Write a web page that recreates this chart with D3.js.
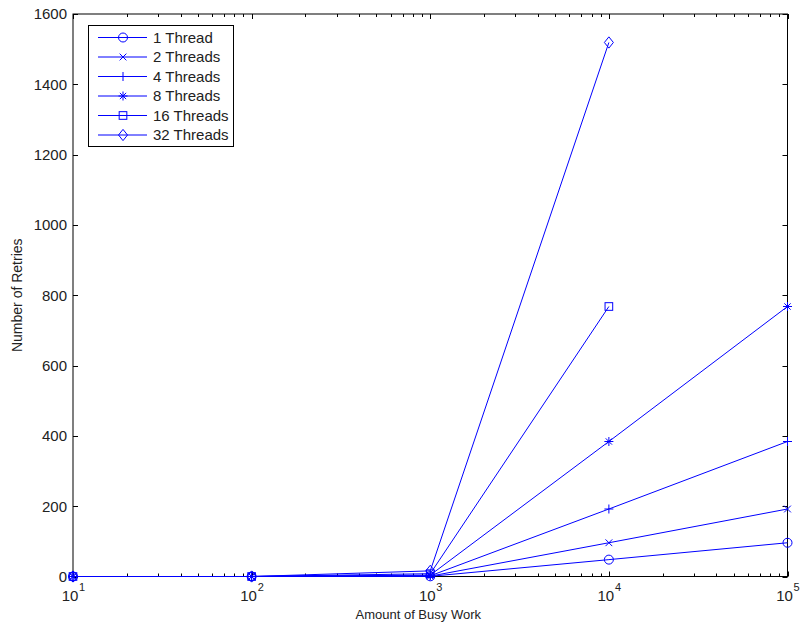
<!DOCTYPE html>
<html>
<head>
<meta charset="utf-8">
<script src="https://cdn.jsdelivr.net/npm/d3@7/dist/d3.min.js"></script>
<style>
  html, body { margin: 0; padding: 0; background: #fff; }
  svg { display: block; font-family: "Liberation Sans", Arial, Helvetica, sans-serif; }
</style>
</head>
<body>
<svg id="chart" width="801" height="629"></svg>
<script>
// Amount of busy work per iteration (x, log scale)
const busyWork = [10, 100, 1000, 10000, 100000];

// Retries per thread count; null where the run was not measured
const series1 = [0, 0, 0.5, 48, 96];
const series2 = [0, 0, 1, 96, 192];
const series4 = [0, 0, 2, 192, 384];
const series8 = [0, 0, 4, 384, 768];
const series16 = [0, 0, 8, 768, null];
const series32 = [0, 0, 16, 1519, null];

const seriesNames = ["1 Thread", "2 Threads", "4 Threads", "8 Threads", "16 Threads", "32 Threads"];
const seriesValues = [series1, series2, series4, series8, series16, series32];
const markerKinds = ["circle", "x", "plus", "star", "square", "diamond"];

const yTicks = [0, 200, 400, 600, 800, 1000, 1200, 1400, 1600];
const xMajorTicks = [10, 100, 1000, 10000, 100000];

const color = "#0000ff";
const plotLeft = 73, plotRight = 787.5, plotTop = 14, plotBottom = 576.5;

const svg = d3.select("#chart");
const x = d3.scaleLog().domain([10, 100000]).range([plotLeft, plotRight]);
const y = d3.scaleLinear().domain([0, 1600]).range([plotBottom, plotTop]);

// Minor ticks 2..9 within each decade
const xMinor = [];
for (let d = 10; d < 100000; d *= 10) for (let k = 2; k <= 9; k++) xMinor.push(d * k);

const tickLen = 5, minorLen = 3;
const axisG = svg.append("g").attr("stroke", "#000").attr("stroke-width", 1).attr("fill", "none");

// Frame
axisG.append("rect").attr("x", plotLeft).attr("y", plotTop)
  .attr("width", plotRight - plotLeft).attr("height", plotBottom - plotTop);

// X ticks (bottom and top, pointing inward)
xMajorTicks.forEach(v => {
  const px = Math.round(x(v)) + 0.5;
  axisG.append("line").attr("x1", px).attr("x2", px).attr("y1", plotBottom).attr("y2", plotBottom - tickLen);
  axisG.append("line").attr("x1", px).attr("x2", px).attr("y1", plotTop).attr("y2", plotTop + tickLen);
});
xMinor.forEach(v => {
  const px = Math.round(x(v)) + 0.5;
  axisG.append("line").attr("x1", px).attr("x2", px).attr("y1", plotBottom).attr("y2", plotBottom - minorLen);
  axisG.append("line").attr("x1", px).attr("x2", px).attr("y1", plotTop).attr("y2", plotTop + minorLen);
});
// Y ticks (left and right, pointing inward)
yTicks.forEach(v => {
  const py = Math.round(y(v)) + 0.5;
  axisG.append("line").attr("x1", plotLeft).attr("x2", plotLeft + tickLen).attr("y1", py).attr("y2", py);
  axisG.append("line").attr("x1", plotRight).attr("x2", plotRight - tickLen).attr("y1", py).attr("y2", py);
});

// Y tick labels
svg.append("g").selectAll("text").data(yTicks).join("text")
  .attr("x", plotLeft - 6).attr("y", d => y(d)).attr("dy", "0.36em")
  .attr("text-anchor", "end").attr("font-size", 15).attr("fill", "#222")
  .text(d => d);

// X tick labels as 10 with superscript exponent
const xl = svg.append("g").attr("fill", "#222");
xMajorTicks.forEach(v => {
  const exp = Math.round(Math.log10(v));
  xl.append("text").attr("x", x(v) - 3).attr("y", 601)
    .attr("text-anchor", "middle").attr("font-size", 15).text("10");
  xl.append("text").attr("x", x(v) + 6).attr("y", 591)
    .attr("font-size", 11).text(exp);
});

// Axis titles
svg.append("text").attr("x", (plotLeft + plotRight) / 2 - 12).attr("y", 619)
  .attr("text-anchor", "middle").attr("font-size", 13).attr("fill", "#222")
  .text("Amount of Busy Work");
svg.append("text").attr("transform", `translate(22,${(plotTop + plotBottom) / 2}) rotate(-90)`)
  .attr("text-anchor", "middle").attr("font-size", 14).attr("fill", "#222")
  .text("Number of Retries");

// Marker drawing
function drawMarker(g, kind, cx, cy) {
  const s = 4.5;
  const m = g.append("g").attr("transform", `translate(${cx},${cy})`)
    .attr("stroke", color).attr("stroke-width", 1).attr("fill", "none");
  if (kind === "circle") m.append("circle").attr("r", s);
  else if (kind === "x") m.append("path").attr("d", `M${-s*0.75},${-s*0.75}L${s*0.75},${s*0.75}M${-s*0.75},${s*0.75}L${s*0.75},${-s*0.75}`);
  else if (kind === "plus") m.append("path").attr("d", `M${-s},0L${s},0M0,${-s}L0,${s}`);
  else if (kind === "star") m.append("path").attr("d", `M${-s},0L${s},0M0,${-s}L0,${s}M${-s*0.7},${-s*0.7}L${s*0.7},${s*0.7}M${-s*0.7},${s*0.7}L${s*0.7},${-s*0.7}`);
  else if (kind === "square") m.append("rect").attr("x", -s * 0.85).attr("y", -s * 0.85).attr("width", s * 1.7).attr("height", s * 1.7);
  else if (kind === "diamond") m.append("path").attr("d", `M0,${-s*1.25}L${s},0L0,${s*1.25}L${-s},0Z`);
}

// Series lines and markers
const line = d3.line()
  .defined(d => d.v !== null)
  .x(d => x(d.w)).y(d => y(d.v));

const plotG = svg.append("g");
seriesValues.forEach((vals, i) => {
  const pts = busyWork.map((w, j) => ({ w, v: vals[j] }));
  plotG.append("path").datum(pts).attr("d", line)
    .attr("fill", "none").attr("stroke", color).attr("stroke-width", 1);
  pts.filter(d => d.v !== null).forEach(d => drawMarker(plotG, markerKinds[i], x(d.w), y(d.v)));
});

// Legend
const lg = svg.append("g");
lg.append("rect").attr("x", 88.5).attr("y", 25.5).attr("width", 145).attr("height", 121)
  .attr("fill", "#fff").attr("stroke", "#000").attr("stroke-width", 1);
seriesNames.forEach((name, i) => {
  const ly = 37.5 + i * 19.5;
  lg.append("line").attr("x1", 98).attr("x2", 147).attr("y1", ly).attr("y2", ly)
    .attr("stroke", color).attr("stroke-width", 1);
  drawMarker(lg, markerKinds[i], 123, ly);
  lg.append("text").attr("x", 153).attr("y", ly).attr("dy", "0.36em")
    .attr("font-size", 15).attr("fill", "#222").text(name);
});
</script>
</body>
</html>
